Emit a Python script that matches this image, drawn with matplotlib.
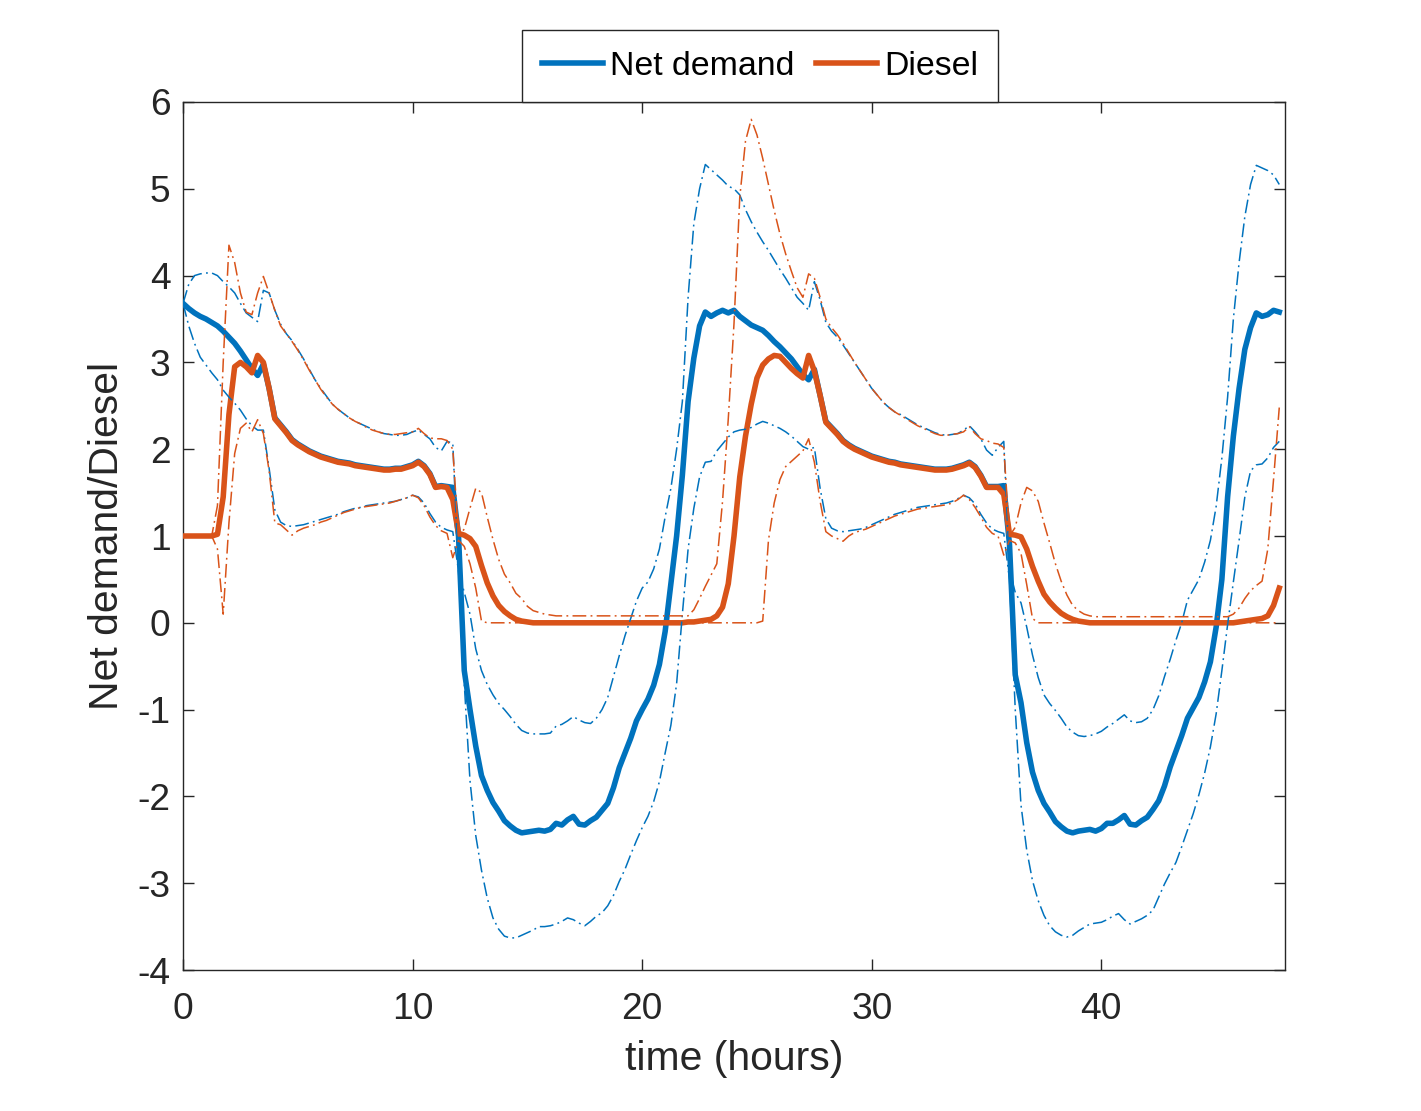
import numpy as np
import matplotlib
matplotlib.use("Agg")
import matplotlib.pyplot as plt

# time axis (hours), 15-minute samples
time_h = np.arange(0, 48, 0.25)

net_demand_mean = [
    3.68, 3.62, 3.57, 3.53, 3.50, 3.46, 3.42, 3.36,
    3.29, 3.22, 3.13, 3.03, 2.93, 2.85, 2.98, 2.70,
    2.36, 2.28, 2.20, 2.11, 2.06, 2.02, 1.98, 1.95,
    1.92, 1.90, 1.88, 1.86, 1.85, 1.84, 1.82, 1.81,
    1.80, 1.79, 1.78, 1.77, 1.77, 1.78, 1.78, 1.80,
    1.82, 1.86, 1.81, 1.72, 1.57, 1.58, 1.57, 1.56,
    1.00, -0.55, -1.00, -1.42, -1.76, -1.93, -2.07, -2.17,
    -2.28, -2.34, -2.39, -2.42, -2.41, -2.40, -2.39, -2.40,
    -2.38, -2.31, -2.33, -2.27, -2.23, -2.32, -2.33, -2.28,
    -2.24, -2.16, -2.08, -1.90, -1.67, -1.50, -1.33, -1.13,
    -1.00, -0.88, -0.72, -0.48, -0.10, 0.45, 1.00, 1.70,
    2.55, 3.05, 3.42, 3.58, 3.53, 3.57, 3.60, 3.57,
    3.60, 3.53, 3.48, 3.43, 3.40, 3.37, 3.31, 3.24,
    3.18, 3.11, 3.04, 2.95, 2.86, 2.80, 2.92, 2.62,
    2.32, 2.25, 2.18, 2.10, 2.05, 2.01, 1.98, 1.95,
    1.92, 1.90, 1.88, 1.86, 1.85, 1.83, 1.82, 1.81,
    1.80, 1.79, 1.78, 1.77, 1.77, 1.77, 1.78, 1.80,
    1.82, 1.85, 1.80, 1.70, 1.57, 1.57, 1.57, 1.58,
    0.90, -0.60, -0.92, -1.38, -1.72, -1.93, -2.08, -2.18,
    -2.29, -2.35, -2.40, -2.42, -2.40, -2.39, -2.38, -2.40,
    -2.37, -2.31, -2.31, -2.27, -2.22, -2.32, -2.33, -2.28,
    -2.24, -2.15, -2.05, -1.88, -1.66, -1.48, -1.30, -1.10,
    -0.98, -0.86, -0.68, -0.45, -0.05, 0.50, 1.45, 2.15,
    2.70, 3.15, 3.40, 3.57, 3.53, 3.55, 3.60, 3.58,
]

diesel_mean = [
    1.00, 1.00, 1.00, 1.00, 1.00, 1.00, 1.02, 1.45,
    2.40, 2.95, 3.00, 2.95, 2.88, 3.08, 3.00, 2.70,
    2.35, 2.27, 2.19, 2.10, 2.05, 2.01, 1.97, 1.94,
    1.91, 1.89, 1.87, 1.85, 1.84, 1.83, 1.81, 1.80,
    1.79, 1.78, 1.77, 1.76, 1.76, 1.77, 1.77, 1.79,
    1.81, 1.85, 1.80, 1.71, 1.56, 1.57, 1.56, 1.42,
    1.03, 1.01, 0.97, 0.88, 0.66, 0.46, 0.31, 0.20,
    0.13, 0.08, 0.04, 0.02, 0.01, 0.00, 0.00, 0.00,
    0.00, 0.00, 0.00, 0.00, 0.00, 0.00, 0.00, 0.00,
    0.00, 0.00, 0.00, 0.00, 0.00, 0.00, 0.00, 0.00,
    0.00, 0.00, 0.00, 0.00, 0.00, 0.00, 0.00, 0.00,
    0.01, 0.01, 0.02, 0.03, 0.04, 0.08, 0.18, 0.45,
    1.00, 1.68, 2.15, 2.52, 2.82, 2.97, 3.04, 3.08,
    3.07, 3.00, 2.93, 2.87, 2.82, 3.08, 2.90, 2.62,
    2.31, 2.24, 2.17, 2.09, 2.04, 2.00, 1.97, 1.94,
    1.91, 1.89, 1.87, 1.85, 1.84, 1.82, 1.81, 1.80,
    1.79, 1.78, 1.77, 1.76, 1.76, 1.76, 1.77, 1.79,
    1.81, 1.84, 1.79, 1.69, 1.56, 1.56, 1.56, 1.48,
    1.02, 1.01, 0.99, 0.85, 0.65, 0.48, 0.33, 0.24,
    0.17, 0.11, 0.07, 0.04, 0.02, 0.01, 0.00, 0.00,
    0.00, 0.00, 0.00, 0.00, 0.00, 0.00, 0.00, 0.00,
    0.00, 0.00, 0.00, 0.00, 0.00, 0.00, 0.00, 0.00,
    0.00, 0.00, 0.00, 0.00, 0.00, 0.00, 0.00, 0.00,
    0.01, 0.02, 0.03, 0.04, 0.05, 0.08, 0.20, 0.40,
]

net_demand_upper = [
    3.68, 3.90, 4.00, 4.02, 4.03, 4.03, 4.00, 3.93,
    3.87, 3.80, 3.68, 3.57, 3.52, 3.47, 3.83, 3.80,
    3.60, 3.44, 3.33, 3.25, 3.15, 3.04, 2.92, 2.80,
    2.70, 2.61, 2.52, 2.46, 2.41, 2.36, 2.32, 2.29,
    2.26, 2.23, 2.20, 2.18, 2.17, 2.16, 2.16, 2.17,
    2.20, 2.22, 2.17, 2.12, 2.02, 1.98, 2.09, 2.07,
    0.60, 0.35, 0.10, -0.30, -0.55, -0.71, -0.83, -0.93,
    -1.00, -1.08, -1.17, -1.24, -1.27, -1.28, -1.28, -1.28,
    -1.27, -1.19, -1.17, -1.13, -1.08, -1.12, -1.15, -1.16,
    -1.10, -1.00, -0.86, -0.62, -0.38, -0.15, 0.05, 0.25,
    0.40, 0.47, 0.62, 0.85, 1.22, 1.55, 2.00, 2.55,
    3.75, 4.60, 5.00, 5.28, 5.22, 5.16, 5.10, 5.03,
    5.00, 4.93, 4.76, 4.62, 4.50, 4.39, 4.29, 4.18,
    4.07, 3.97, 3.86, 3.75, 3.68, 3.60, 3.93, 3.72,
    3.46, 3.36, 3.29, 3.20, 3.10, 3.00, 2.90, 2.80,
    2.70, 2.62, 2.54, 2.48, 2.43, 2.40, 2.36, 2.32,
    2.28, 2.25, 2.22, 2.19, 2.17, 2.16, 2.17, 2.18,
    2.22, 2.27, 2.20, 2.12, 1.99, 1.93, 2.02, 2.09,
    0.60, 0.35, 0.23, -0.05, -0.37, -0.63, -0.83, -0.93,
    -1.01, -1.10, -1.20, -1.26, -1.30, -1.31, -1.30, -1.28,
    -1.25, -1.20, -1.16, -1.11, -1.06, -1.13, -1.15, -1.14,
    -1.10, -1.00, -0.84, -0.62, -0.42, -0.20, 0.00, 0.26,
    0.38, 0.50, 0.70, 0.95, 1.34, 1.90, 2.60, 3.50,
    4.15, 4.68, 5.05, 5.27, 5.24, 5.21, 5.16, 5.05,
]

net_demand_lower = [
    3.68, 3.42, 3.22, 3.06, 2.97, 2.88, 2.80, 2.68,
    2.60, 2.53, 2.45, 2.35, 2.27, 2.22, 2.22, 1.78,
    1.30, 1.16, 1.12, 1.11, 1.12, 1.13, 1.15, 1.17,
    1.19, 1.21, 1.23, 1.25, 1.28, 1.30, 1.32, 1.33,
    1.35, 1.36, 1.37, 1.38, 1.39, 1.40, 1.42, 1.44,
    1.47, 1.45, 1.38, 1.26, 1.16, 1.10, 1.07, 1.05,
    0.60, -0.70, -1.82, -2.45, -2.85, -3.17, -3.40, -3.53,
    -3.61, -3.63, -3.63, -3.60, -3.57, -3.54, -3.50, -3.50,
    -3.49, -3.47, -3.44, -3.40, -3.42, -3.46, -3.49, -3.44,
    -3.38, -3.34, -3.26, -3.14, -2.98, -2.84, -2.67, -2.51,
    -2.36, -2.23, -2.06, -1.83, -1.50, -1.18, -0.70, 0.10,
    0.85, 1.32, 1.68, 1.85, 1.86, 1.98, 2.06, 2.14,
    2.20, 2.22, 2.23, 2.25, 2.29, 2.32, 2.30, 2.27,
    2.24, 2.20, 2.15, 2.09, 2.03, 2.00, 2.02, 1.55,
    1.20, 1.09, 1.06, 1.05, 1.06, 1.07, 1.08, 1.10,
    1.13, 1.16, 1.19, 1.22, 1.25, 1.27, 1.29, 1.31,
    1.33, 1.34, 1.35, 1.36, 1.37, 1.38, 1.40, 1.43,
    1.47, 1.44, 1.37, 1.25, 1.15, 1.08, 1.05, 1.03,
    0.50, -1.00, -2.10, -2.62, -2.97, -3.20, -3.37, -3.49,
    -3.56, -3.60, -3.62, -3.60, -3.55, -3.51, -3.47, -3.46,
    -3.45, -3.42, -3.38, -3.35, -3.42, -3.47, -3.44, -3.41,
    -3.37, -3.31, -3.16, -3.01, -2.88, -2.76, -2.58, -2.39,
    -2.20, -1.98, -1.73, -1.43, -1.05, -0.55, -0.02, 0.47,
    0.95, 1.45, 1.75, 1.82, 1.83, 1.90, 2.02, 2.09,
]

diesel_upper = [
    1.00, 1.00, 1.00, 1.00, 1.00, 1.00, 1.35, 3.00,
    4.35, 4.15, 3.80, 3.58, 3.55, 3.80, 3.99, 3.80,
    3.60, 3.42, 3.33, 3.24, 3.14, 3.03, 2.91, 2.80,
    2.69, 2.60, 2.52, 2.46, 2.41, 2.36, 2.32, 2.29,
    2.25, 2.22, 2.20, 2.18, 2.17, 2.17, 2.18, 2.19,
    2.20, 2.24, 2.18, 2.13, 2.12, 2.12, 2.10, 2.00,
    1.00, 1.08, 1.32, 1.55, 1.50, 1.22, 0.96, 0.73,
    0.56, 0.46, 0.34, 0.28, 0.19, 0.14, 0.12, 0.10,
    0.09, 0.08, 0.08, 0.08, 0.08, 0.08, 0.08, 0.08,
    0.08, 0.08, 0.08, 0.08, 0.08, 0.08, 0.08, 0.08,
    0.08, 0.08, 0.08, 0.08, 0.08, 0.08, 0.08, 0.08,
    0.08, 0.15, 0.28, 0.42, 0.55, 0.68, 1.40, 2.35,
    3.45, 4.90, 5.55, 5.80, 5.62, 5.35, 5.05, 4.75,
    4.48, 4.25, 4.05, 3.86, 3.75, 4.02, 3.97, 3.75,
    3.50, 3.40, 3.32, 3.22, 3.11, 3.00, 2.90, 2.80,
    2.70, 2.62, 2.54, 2.48, 2.43, 2.39, 2.35, 2.31,
    2.27, 2.24, 2.21, 2.18, 2.16, 2.16, 2.17, 2.18,
    2.20, 2.26, 2.18, 2.12, 2.10, 2.07, 2.06, 2.02,
    1.00, 1.10, 1.38, 1.56, 1.52, 1.40, 1.15, 0.92,
    0.68, 0.48, 0.32, 0.20, 0.14, 0.10, 0.08, 0.07,
    0.07, 0.07, 0.07, 0.07, 0.07, 0.07, 0.07, 0.07,
    0.07, 0.07, 0.07, 0.07, 0.07, 0.07, 0.07, 0.07,
    0.07, 0.07, 0.07, 0.07, 0.07, 0.07, 0.07, 0.10,
    0.17, 0.28, 0.37, 0.43, 0.48, 0.85, 1.65, 2.48,
]

diesel_lower = [
    1.00, 1.00, 1.00, 1.00, 1.00, 1.00, 0.85, 0.10,
    1.15, 1.95, 2.24, 2.30, 2.20, 2.34, 2.18, 1.75,
    1.15, 1.13, 1.07, 1.01, 1.06, 1.09, 1.11, 1.13,
    1.16, 1.18, 1.21, 1.24, 1.27, 1.29, 1.31, 1.33,
    1.34, 1.35, 1.36, 1.37, 1.38, 1.40, 1.42, 1.44,
    1.47, 1.44, 1.35, 1.22, 1.12, 1.06, 1.03, 0.75,
    0.95, 0.88, 0.68, 0.40, 0.02, 0.00, 0.00, 0.00,
    0.00, 0.00, 0.00, 0.00, 0.00, 0.00, 0.00, 0.00,
    0.00, 0.00, 0.00, 0.00, 0.00, 0.00, 0.00, 0.00,
    0.00, 0.00, 0.00, 0.00, 0.00, 0.00, 0.00, 0.00,
    0.00, 0.00, 0.00, 0.00, 0.00, 0.00, 0.00, 0.00,
    0.00, 0.00, 0.00, 0.00, 0.00, 0.00, 0.00, 0.00,
    0.00, 0.00, 0.00, 0.00, 0.00, 0.02, 0.95, 1.38,
    1.65, 1.80, 1.86, 1.92, 1.98, 2.12, 1.85, 1.40,
    1.05, 1.00, 0.97, 0.94, 1.00, 1.04, 1.06, 1.08,
    1.11, 1.14, 1.17, 1.20, 1.23, 1.25, 1.27, 1.29,
    1.31, 1.32, 1.33, 1.34, 1.35, 1.36, 1.38, 1.42,
    1.47, 1.42, 1.33, 1.22, 1.10, 1.03, 1.00, 0.78,
    0.95, 0.92, 0.80, 0.44, 0.05, 0.00, 0.00, 0.00,
    0.00, 0.00, 0.00, 0.00, 0.00, 0.00, 0.00, 0.00,
    0.00, 0.00, 0.00, 0.00, 0.00, 0.00, 0.00, 0.00,
    0.00, 0.00, 0.00, 0.00, 0.00, 0.00, 0.00, 0.00,
    0.00, 0.00, 0.00, 0.00, 0.00, 0.00, 0.00, 0.00,
    0.00, 0.00, 0.00, 0.00, 0.00, 0.00, 0.00, 0.00,
]

x_ticks = [0, 10, 20, 30, 40]
y_ticks = [-4, -3, -2, -1, 0, 1, 2, 3, 4, 5, 6]
legend_labels = ["Net demand", "Diesel"]
x_label = "time (hours)"
y_label = "Net demand/Diesel"

BLUE = "#0072BD"
ORANGE = "#D95319"
AX_COLOR = "#262626"

plt.rcParams["font.family"] = ["Liberation Sans", "DejaVu Sans"]
plt.rcParams["axes.unicode_minus"] = False

fig = plt.figure(figsize=(14.21, 11.11), dpi=100)
ax = fig.add_axes([0.1288, 0.1269, 0.7755, 0.7813])

thick = 4.0
thin = 1.1
dd = (0, (9, 2.8, 1.2, 2.8))

l1, = ax.plot(time_h, net_demand_mean, color=BLUE, lw=thick, solid_joinstyle="round", zorder=3)
l2, = ax.plot(time_h, diesel_mean, color=ORANGE, lw=thick, solid_joinstyle="round", zorder=4)
ax.plot(time_h, net_demand_upper, color=BLUE, lw=thin, linestyle=dd, zorder=5)
ax.plot(time_h, net_demand_lower, color=BLUE, lw=thin, linestyle=dd, zorder=5)
ax.plot(time_h, diesel_upper, color=ORANGE, lw=thin, linestyle=dd, zorder=5)
ax.plot(time_h, diesel_lower, color=ORANGE, lw=thin, linestyle=dd, zorder=5)

ax.set_xlim(0, 48)
ax.set_ylim(-4, 6)
ax.set_xticks(x_ticks)
ax.set_yticks(y_ticks)

for sp in ax.spines.values():
    sp.set_color(AX_COLOR)
    sp.set_linewidth(1.0)

ax.tick_params(axis="both", which="both", direction="in", top=True, right=True,
               length=8, width=1.0, color=AX_COLOR, labelcolor=AX_COLOR,
               labelsize=26.7)
ax.tick_params(axis="y", pad=9)
ax.tick_params(axis="x", pad=16)

ax.set_xlabel(x_label, fontsize=29.4, color=AX_COLOR, labelpad=9)
ax.set_ylabel(y_label, fontsize=29.4, color=AX_COLOR, labelpad=8)

leg = ax.legend([l1, l2], legend_labels, loc="lower center",
                bbox_to_anchor=(0.5235, 1.0), borderaxespad=0.0, ncol=2,
                fontsize=24.4, frameon=True, fancybox=False, framealpha=1,
                edgecolor=AX_COLOR, handlelength=1.8, handletextpad=0.2,
                columnspacing=0.65, borderpad=0.6)
leg.get_frame().set_linewidth(1.0)
for txt in leg.get_texts():
    txt.set_color("black")

fig.savefig("out.png", dpi=100, facecolor="white")
